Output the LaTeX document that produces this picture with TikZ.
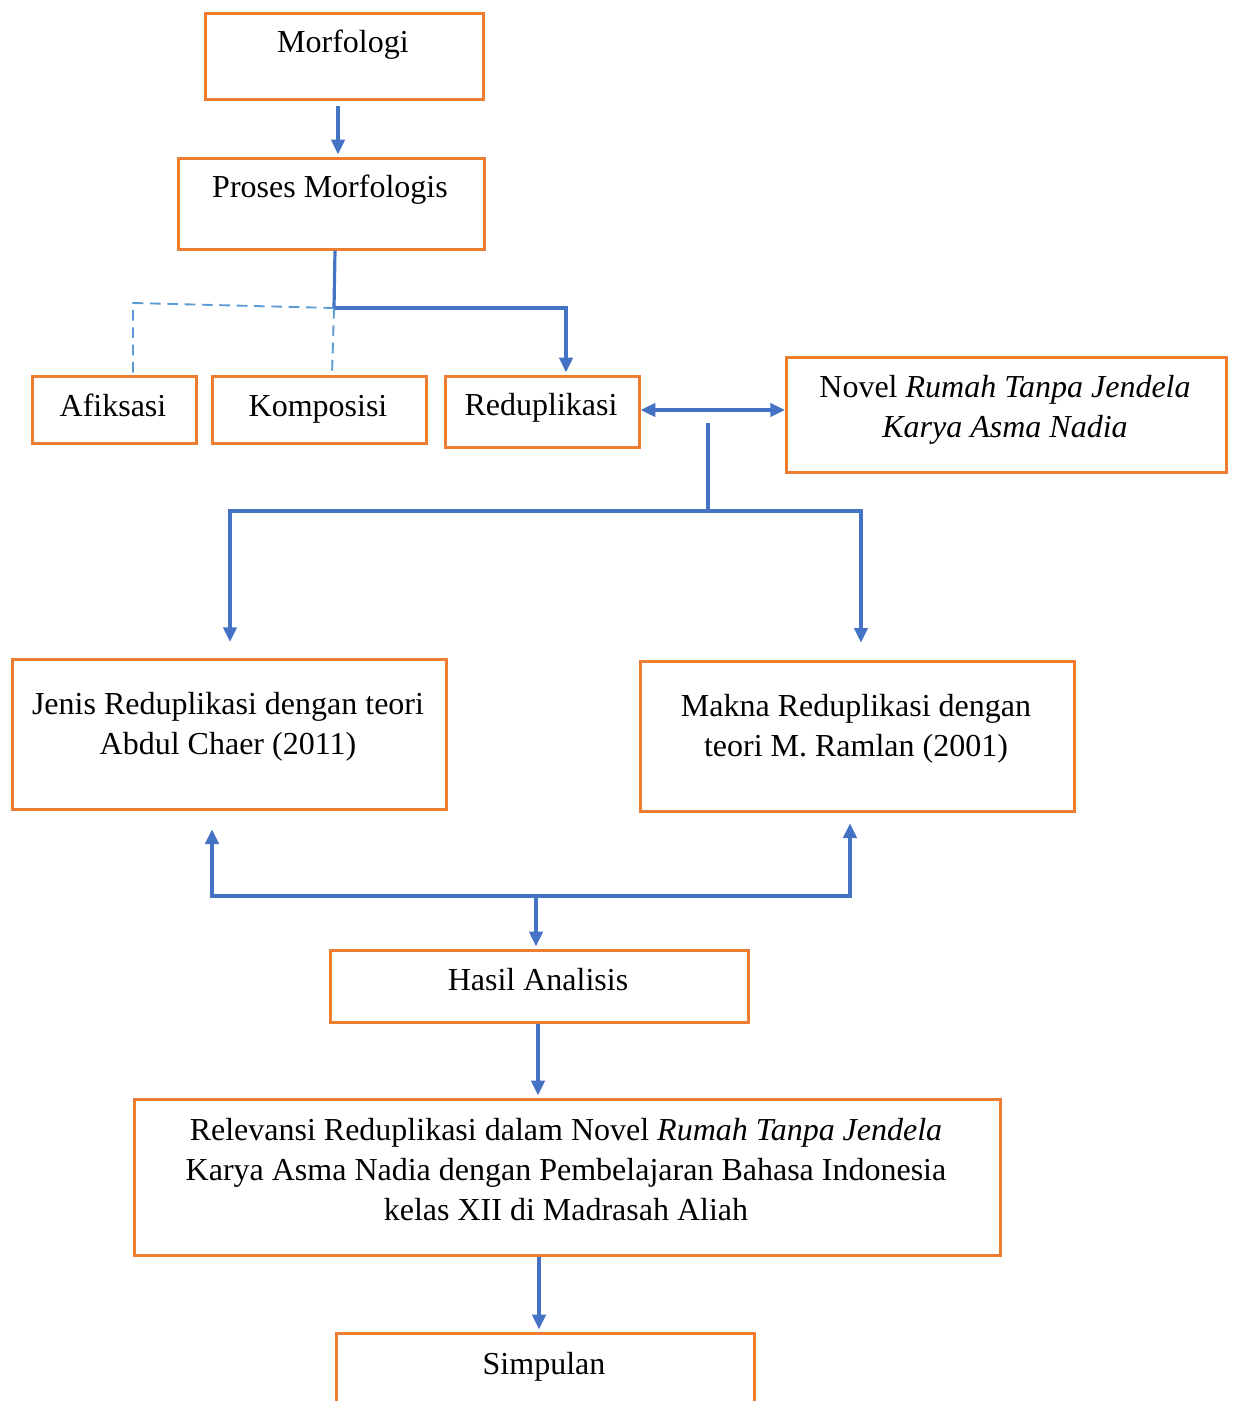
\documentclass[tikz,border=0pt]{standalone}
\usepackage{fontspec}
\setmainfont{Liberation Serif}
\usetikzlibrary{arrows.meta}
\definecolor{boxorange}{HTML}{ED7D31}
\definecolor{linkblue}{HTML}{4472C4}
\definecolor{dashblue}{HTML}{5B9BD5}

\begin{document}
\begin{tikzpicture}[x=0.375pt,y=-0.375pt,
    box/.style={draw=boxorange,line width=1pt,anchor=north west,inner sep=0pt},
    boxsize/.style 2 args={minimum width=#1*0.375pt,minimum height=#2*0.375pt},
    txt/.style={font=\fontsize{12}{15}\selectfont,align=center,inner sep=0pt},
    line1/.style={txt,anchor=base},
    link/.style={draw=linkblue,line width=1.2pt},
    arr/.style={link,-{Triangle[length=5.5pt,width=5pt]}},
    darr/.style={link,{Triangle[length=5.5pt,width=5pt]}-{Triangle[length=5.5pt,width=5pt]}},
    dashlink/.style={draw=dashblue,line width=0.7pt,dash pattern=on 4pt off 2.5pt}]
            \clip (0,0) rectangle (1233,1401);
            % boxes
            \node[box,boxsize={278}{86}] (morf) at (204,12) {};
            \node[line1] (morf-t) at (343,53) {Morfologi};
            \node[box,boxsize={306}{91}] (proses) at (177,157) {};
            \node[line1] (proses-t) at (330,198) {Proses Morfologis};
            \node[box,boxsize={164}{67}] (afiks) at (31,375) {};
            \node[line1] (afiks-t) at (113,416) {Afiksasi};
            \node[box,boxsize={214}{67}] (kompo) at (211,375) {};
            \node[line1] (kompo-t) at (318,416) {Komposisi};
            \node[box,boxsize={194}{71}] (redup) at (444,375) {};
            \node[line1] (redup-t) at (541,415) {Reduplikasi};
            \node[box,boxsize={440}{115}] (novel) at (785,356) {};
            \node[txt] (novel-t) at (1005,410) {Novel \textit{Rumah Tanpa Jendela}\\\textit{Karya Asma Nadia}};
            \node[box,boxsize={434}{150}] (jenis) at (11,658) {};
            \node[txt] (jenis-t) at (228,727) {Jenis Reduplikasi dengan teori\\Abdul Chaer (2011)};
            \node[box,boxsize={434}{150}] (makna) at (639,660) {};
            \node[txt] (makna-t) at (856,729) {Makna Reduplikasi dengan\\teori M. Ramlan (2001)};
            \node[box,boxsize={418}{72}] (hasil) at (329,949) {};
            \node[line1] (hasil-t) at (538,990) {Hasil Analisis};
            \node[box,boxsize={866}{156}] (relev) at (133,1098) {};
            \node[txt] (relev-t) at (566,1170) {Relevansi Reduplikasi dalam Novel \textit{Rumah Tanpa Jendela}\\Karya Asma Nadia dengan Pembelajaran Bahasa Indonesia\\kelas XII di Madrasah Aliah};
            \node[box,boxsize={418}{120}] (simp) at (335,1332) {};
            \node[line1] (simp-t) at (544,1374) {Simpulan};
            % junctions
            \coordinate (j1) at (334,308);
            \coordinate (j2top) at (708,423);
            \coordinate (j2) at (708,511);
            \coordinate (j3) at (536,896);
            \coordinate (dcorner) at (133,303);
            % connectors
            \draw[arr,shorten <=2pt,shorten >=1pt] (338,0 |- morf.south) -- (338,0 |- proses.north);
            \draw[link] (335,0 |- proses.south) -- (j1);
            \draw[arr,shorten >=1pt] (j1) -| (566,0 |- redup.north);
            \draw[dashlink] (j1) -- (dcorner) -- (133,0 |- afiks.north);
            \draw[dashlink] (j1) -- (332,0 |- kompo.north);
            \draw[darr] (redup.east |- 0,410) -- (novel.west |- 0,410);
            \draw[link] (j2top) -- (j2);
            \draw[arr,shorten >=6pt] (j2) -| (230,0 |- jenis.north);
            \draw[arr,shorten >=6.5pt] (j2) -| (861,0 |- makna.north);
            \draw[arr,shorten >=7pt] (j3) -| (212,0 |- jenis.south);
            \draw[arr,shorten >=4pt] (j3) -| (850,0 |- makna.south);
            \draw[arr,shorten >=1pt] (j3) -- (536,0 |- hasil.north);
            \draw[arr,shorten >=1pt] (538,0 |- hasil.south) -- (538,0 |- relev.north);
            \draw[arr,shorten >=1pt] (539,0 |- relev.south) -- (539,0 |- simp.north);
\end{tikzpicture}
\end{document}
